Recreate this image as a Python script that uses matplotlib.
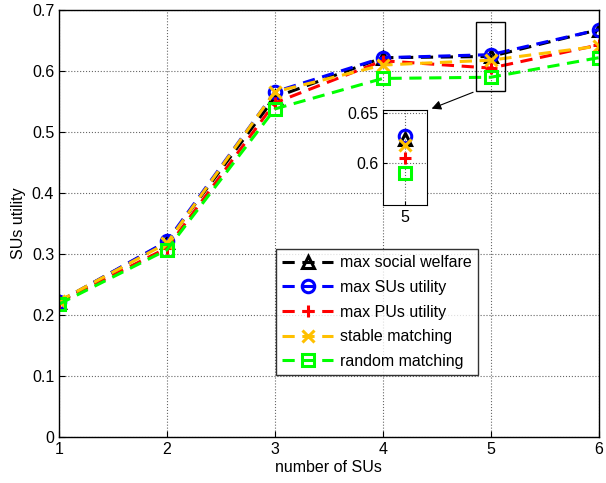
import matplotlib.pyplot as plt
import numpy as np

plt.rcParams['font.family'] = ['Liberation Sans', 'DejaVu Sans']

# data
n_sus = [1, 2, 3, 4, 5, 6]
social_welfare = [0.222, 0.320, 0.557, 0.622, 0.624, 0.668]
sus_utility = [0.222, 0.321, 0.566, 0.622, 0.627, 0.668]
pus_utility = [0.221, 0.310, 0.548, 0.617, 0.605, 0.643]
stable_match = [0.223, 0.318, 0.566, 0.610, 0.618, 0.641]
random_match = [0.218, 0.307, 0.538, 0.588, 0.590, 0.622]

labels = ['max social welfare', 'max SUs utility', 'max PUs utility',
          'stable matching', 'random matching']
series = [social_welfare, sus_utility, pus_utility, stable_match, random_match]
colors = ['black', 'blue', 'red', '#FFC000', '#00FF00']
markers = ['^', 'o', '+', 'x', 's']
yticks = [0, 0.1, 0.2, 0.3, 0.4, 0.5, 0.6, 0.7]
ytick_labels = ['0', '0.1', '0.2', '0.3', '0.4', '0.5', '0.6', '0.7']

fs = 11.5

fig = plt.figure(figsize=(6.06, 4.83), dpi=100)
ax = fig.add_axes([0.0974, 0.0952, 0.8906, 0.8838])

def draw(a, ms, ls='--'):
    for y, c, m, lab in zip(series, colors, markers, labels):
        line, = a.plot(n_sus, y, linestyle=ls, color=c, lw=2.2,
                       marker=m, markersize=ms, markerfacecolor='none',
                       markeredgecolor=c, markeredgewidth=2.2, label=lab)
        if ls == '--':
            line.set_dashes((4, 2.5))

draw(ax, 9)
ax.set_xlim(1, 6)
ax.set_ylim(0, 0.7)
ax.set_xticks(n_sus)
ax.set_yticks(yticks)
ax.set_yticklabels(ytick_labels)
ax.grid(True, linestyle=':', color='black', lw=0.8, alpha=0.6)
ax.tick_params(direction='in', labelsize=fs, length=4)
ax.set_xlabel('number of SUs', fontsize=fs, labelpad=2)
ax.set_ylabel('SUs utility', fontsize=fs)
for s in ax.spines.values():
    s.set_linewidth(1.0)

leg = ax.legend(loc='lower left', bbox_to_anchor=(0.402, 0.145), fontsize=fs,
                frameon=True, fancybox=False, edgecolor='black',
                handlelength=3.2, handletextpad=0.4, borderpad=0.4,
                labelspacing=0.6, borderaxespad=0)
leg.get_frame().set_linewidth(1.0)

# zoom box on main axes
ax.add_patch(plt.Rectangle((4.86, 0.567), 0.27, 0.113, fill=False,
                           edgecolor='black', lw=1.0, zorder=5))

# inset
ins = fig.add_axes([0.632, 0.5756, 0.0726, 0.197])
draw(ins, 9, ls='none')
ins.set_xlim(4.9, 5.1)
ins.set_ylim(0.558, 0.653)
ins.set_xticks([5])
ins.set_yticks([0.6, 0.65])
ins.set_yticklabels(['0.6', '0.65'])
ins.grid(True, linestyle=':', color='black', lw=0.8, alpha=0.6)
ins.tick_params(direction='in', labelsize=fs, length=3)

ax.annotate('', xy=(0.708, 0.773), xycoords='figure fraction',
            xytext=(4.86, 0.567), textcoords='data',
            arrowprops=dict(arrowstyle='-|>', color='black', lw=0.8,
                            mutation_scale=14))

fig.savefig('out.png', dpi=100)
